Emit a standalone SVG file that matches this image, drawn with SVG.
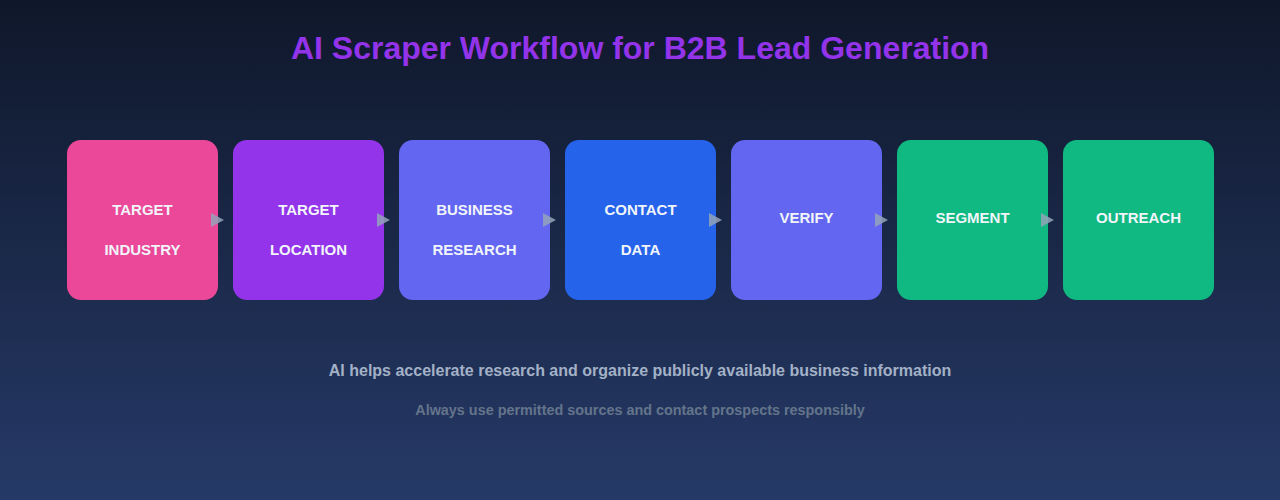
<svg xmlns="http://www.w3.org/2000/svg" width="1280" height="500" viewBox="0 0 1280 500">
<defs>
<linearGradient id="bg" x1="0" y1="0" x2="0" y2="1">
<stop offset="0" stop-color="#0f172a"/>
<stop offset="1" stop-color="#263a68"/>
</linearGradient>
<style>
.box{stroke:none}
.lbl{font-family:"Liberation Sans",Arial,sans-serif;font-weight:bold;font-size:15px;fill:#f1f5f9;text-anchor:middle;dominant-baseline:central}
.arr{fill:#94a3b8;opacity:0.85}
</style>
</defs>
<rect x="0" y="0" width="1280" height="500" fill="url(#bg)"/>
<text x="640" y="59" font-family="Liberation Sans, Arial, sans-serif" font-weight="bold" font-size="32" fill="#9333ea" text-anchor="middle">AI Scraper Workflow for B2B Lead Generation</text>
<g id="node1"><rect class="box" x="67" y="140" width="151" height="160" rx="14" fill="#ec4899"/><text class="lbl" x="142.5" y="209">TARGET</text><text class="lbl" x="142.5" y="249">INDUSTRY</text></g>
<g id="node2"><rect class="box" x="233" y="140" width="151" height="160" rx="14" fill="#9333ea"/><text class="lbl" x="308.5" y="209">TARGET</text><text class="lbl" x="308.5" y="249">LOCATION</text></g>
<g id="node3"><rect class="box" x="399" y="140" width="151" height="160" rx="14" fill="#6366f1"/><text class="lbl" x="474.5" y="209">BUSINESS</text><text class="lbl" x="474.5" y="249">RESEARCH</text></g>
<g id="node4"><rect class="box" x="565" y="140" width="151" height="160" rx="14" fill="#2563eb"/><text class="lbl" x="640.5" y="209">CONTACT</text><text class="lbl" x="640.5" y="249">DATA</text></g>
<g id="node5"><rect class="box" x="731" y="140" width="151" height="160" rx="14" fill="#6366f1"/><text class="lbl" x="806.5" y="217">VERIFY</text></g>
<g id="node6"><rect class="box" x="897" y="140" width="151" height="160" rx="14" fill="#10b981"/><text class="lbl" x="972.5" y="217">SEGMENT</text></g>
<g id="node7"><rect class="box" x="1063" y="140" width="151" height="160" rx="14" fill="#10b981"/><text class="lbl" x="1138.5" y="217">OUTREACH</text></g>
<g id="connectors">
<polygon class="arr" points="211,213 224,220 211,227"/>
<polygon class="arr" points="377,213 390,220 377,227"/>
<polygon class="arr" points="543,213 556,220 543,227"/>
<polygon class="arr" points="709,213 722,220 709,227"/>
<polygon class="arr" points="875,213 888,220 875,227"/>
<polygon class="arr" points="1041,213 1054,220 1041,227"/>
</g>
<text x="640" y="376" font-family="Liberation Sans, Arial, sans-serif" font-weight="bold" font-size="16" fill="#a3b1c6" text-anchor="middle">AI helps accelerate research and organize publicly available business information</text>
<text x="640" y="415" font-family="Liberation Sans, Arial, sans-serif" font-weight="bold" font-size="14.4" fill="#64748b" text-anchor="middle">Always use permitted sources and contact prospects responsibly</text>
</svg>
